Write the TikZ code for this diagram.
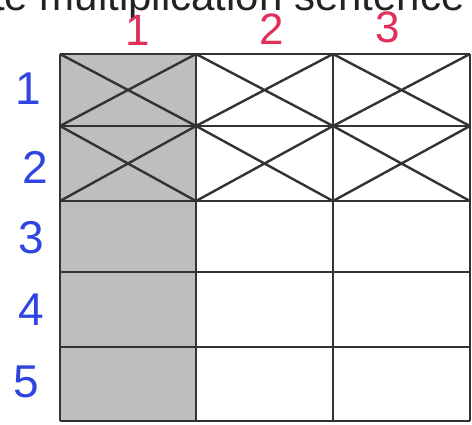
\documentclass[tikz,border=0pt]{standalone}
\usepackage{fontspec}
\setmainfont{Liberation Sans}
\usepackage{xcolor}
\usepackage{tikz}
\definecolor{penred}{HTML}{E0305A}
\definecolor{penblue}{HTML}{2F45E0}
\definecolor{gridline}{HTML}{333333}
\definecolor{cellgray}{HTML}{BEBEBE}
\definecolor{headtext}{HTML}{222222}

\begin{document}
\begin{tikzpicture}[x=1pt, y=-1pt]
\useasboundingbox (0,0) rectangle (472,424);
\begin{scope}
\clip (0,0) rectangle (472,424);
\node[font=\fontsize{42}{46}\selectfont, text=headtext, anchor=base west, inner sep=0pt]
  (head) at (-7,10) {te multiplication sentence};
\end{scope}
% shaded column
\fill[cellgray] (60,54) rectangle (196,421);
% crosses in the first two rows
\foreach \xa/\xb in {60/196, 196/333, 333/470}
  \foreach \ya/\yb in {54/126, 126/201}
    \draw[gridline, line width=2.4pt] (\xa,\ya) -- (\xb,\yb) (\xa,\yb) -- (\xb,\ya);
% grid
\foreach \yy in {54,126,201,272,347,421}
  \draw[gridline, line width=2.6pt] (60,\yy) -- (470,\yy);
\foreach \xx in {60,196,333,470}
  \draw[gridline, line width=2.6pt] (\xx,54) -- (\xx,421);
% column numbers
\node[font=\fontsize{44}{48}\selectfont, text=penred] (c1) at (138,30) {1};
\node[font=\fontsize{44}{48}\selectfont, text=penred] (c2) at (272,29) {2};
\node[font=\fontsize{44}{48}\selectfont, text=penred] (c3) at (388,27) {3};
% row numbers
\node[font=\fontsize{46}{50}\selectfont, text=penblue] (r1) at (28,89) {1};
\node[font=\fontsize{46}{50}\selectfont, text=penblue] (r2) at (35,167) {2};
\node[font=\fontsize{46}{50}\selectfont, text=penblue] (r3) at (31,238) {3};
\node[font=\fontsize{46}{50}\selectfont, text=penblue] (r4) at (31,310) {4};
\node[font=\fontsize{46}{50}\selectfont, text=penblue] (r5) at (26,382) {5};
\end{tikzpicture}
\end{document}
